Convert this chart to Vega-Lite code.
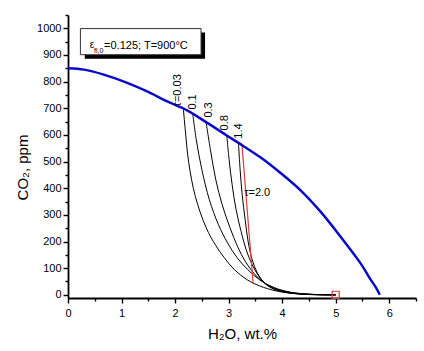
{
  "$schema": "https://vega.github.io/schema/vega-lite/v6.json",
  "width": 348,
  "height": 283,
  "autosize": {"type": "none"},
  "padding": {"left": 68, "top": 15, "right": 8, "bottom": 53},
  "background": "white",
  "config": {
    "view": {"stroke": null},
    "axis": {
      "grid": false,
      "domainColor": "black",
      "domainWidth": 1.8,
      "tickColor": "black",
      "tickWidth": 1.4,
      "labelFont": "Liberation Sans",
      "labelFontSize": 11,
      "labelColor": "black",
      "titleFont": "Liberation Sans",
      "titleFontSize": 15,
      "titleFontWeight": "normal",
      "titleColor": "black"
    },
    "text": {"font": "Liberation Sans", "color": "black"}
  },
  "datasets": {
    "blue": [
      {"x": 0, "y": 850},
      {"x": 0.3, "y": 845},
      {"x": 0.655, "y": 827},
      {"x": 1.094, "y": 796},
      {"x": 1.468, "y": 764},
      {"x": 1.843, "y": 727},
      {"x": 2.217, "y": 693},
      {"x": 2.579, "y": 648},
      {"x": 2.966, "y": 598},
      {"x": 3.184, "y": 570},
      {"x": 3.6, "y": 515},
      {"x": 3.964, "y": 458},
      {"x": 4.339, "y": 393},
      {"x": 4.713, "y": 313},
      {"x": 5.088, "y": 219},
      {"x": 5.462, "y": 119},
      {"x": 5.65, "y": 58},
      {"x": 5.75, "y": 28},
      {"x": 5.824, "y": 0}
    ],
    "curves": [
      {"tau": "0.03", "x": 2.154, "y": 699},
      {"tau": "0.03", "x": 2.19, "y": 620},
      {"tau": "0.03", "x": 2.255, "y": 496},
      {"tau": "0.03", "x": 2.38, "y": 368},
      {"tau": "0.03", "x": 2.58, "y": 252},
      {"tau": "0.03", "x": 2.76, "y": 185},
      {"tau": "0.03", "x": 2.92, "y": 139},
      {"tau": "0.03", "x": 3.11, "y": 94},
      {"tau": "0.03", "x": 3.35, "y": 56},
      {"tau": "0.03", "x": 3.65, "y": 28},
      {"tau": "0.03", "x": 3.98, "y": 11},
      {"tau": "0.03", "x": 4.35, "y": 2.6},
      {"tau": "0.03", "x": 4.713, "y": 0},
      {"tau": "0.03", "x": 5.0, "y": 0},
      {"tau": "0.1", "x": 2.33, "y": 680},
      {"tau": "0.1", "x": 2.395, "y": 583},
      {"tau": "0.1", "x": 2.5, "y": 470},
      {"tau": "0.1", "x": 2.64, "y": 357},
      {"tau": "0.1", "x": 2.81, "y": 263},
      {"tau": "0.1", "x": 2.98, "y": 195},
      {"tau": "0.1", "x": 3.16, "y": 139},
      {"tau": "0.1", "x": 3.36, "y": 94},
      {"tau": "0.1", "x": 3.58, "y": 56},
      {"tau": "0.1", "x": 3.84, "y": 28},
      {"tau": "0.1", "x": 4.16, "y": 9.4},
      {"tau": "0.1", "x": 4.526, "y": 1.9},
      {"tau": "0.1", "x": 5.0, "y": 0},
      {"tau": "0.3", "x": 2.579, "y": 648},
      {"tau": "0.3", "x": 2.66, "y": 545},
      {"tau": "0.3", "x": 2.76, "y": 432},
      {"tau": "0.3", "x": 2.88, "y": 338},
      {"tau": "0.3", "x": 3.025, "y": 252},
      {"tau": "0.3", "x": 3.17, "y": 180},
      {"tau": "0.3", "x": 3.315, "y": 124},
      {"tau": "0.3", "x": 3.48, "y": 79},
      {"tau": "0.3", "x": 3.665, "y": 45},
      {"tau": "0.3", "x": 3.908, "y": 20.7},
      {"tau": "0.3", "x": 4.208, "y": 7.5},
      {"tau": "0.3", "x": 4.564, "y": 1.5},
      {"tau": "0.3", "x": 5.0, "y": 0},
      {"tau": "0.8", "x": 2.966, "y": 598},
      {"tau": "0.8", "x": 3.009, "y": 507},
      {"tau": "0.8", "x": 3.066, "y": 413},
      {"tau": "0.8", "x": 3.14, "y": 319},
      {"tau": "0.8", "x": 3.234, "y": 237},
      {"tau": "0.8", "x": 3.328, "y": 169},
      {"tau": "0.8", "x": 3.44, "y": 113},
      {"tau": "0.8", "x": 3.571, "y": 68},
      {"tau": "0.8", "x": 3.74, "y": 34},
      {"tau": "0.8", "x": 3.983, "y": 13.2},
      {"tau": "0.8", "x": 4.301, "y": 3.8},
      {"tau": "0.8", "x": 4.676, "y": 0.8},
      {"tau": "0.8", "x": 5.0, "y": 0},
      {"tau": "1.4", "x": 3.184, "y": 570},
      {"tau": "1.4", "x": 3.215, "y": 470},
      {"tau": "1.4", "x": 3.253, "y": 376},
      {"tau": "1.4", "x": 3.309, "y": 282},
      {"tau": "1.4", "x": 3.365, "y": 199},
      {"tau": "1.4", "x": 3.44, "y": 132},
      {"tau": "1.4", "x": 3.534, "y": 83},
      {"tau": "1.4", "x": 3.665, "y": 45},
      {"tau": "1.4", "x": 3.852, "y": 20.7},
      {"tau": "1.4", "x": 4.114, "y": 7.5},
      {"tau": "1.4", "x": 4.433, "y": 1.9},
      {"tau": "1.4", "x": 4.751, "y": 0},
      {"tau": "1.4", "x": 5.0, "y": 0}
    ],
    "red": [
      {"x": 3.25, "y": 562},
      {"x": 3.458, "y": 41}
    ],
    "start": [
      {"x": 5.0, "y": 0}
    ],
    "labels": [
      {"label": "τ=0.03", "x": 2.056, "y": 707},
      {"label": "0.1", "x": 2.335, "y": 695},
      {"label": "0.3", "x": 2.625, "y": 665},
      {"label": "0.8", "x": 2.934, "y": 617},
      {"label": "1.4", "x": 3.187, "y": 586}
    ],
    "tau2": [
      {"label": "τ=2.0", "x": 3.29, "y": 383}
    ],
    "frame": [
      {"part": "shadow", "x": 0.313, "x2": 2.56, "y": 886, "y2": 984},
      {"part": "box", "x": 0.232, "x2": 2.485, "y": 901, "y2": 999}
    ],
    "eps": [{"label": "ε", "x": 0.406, "y": 927}],
    "sub": [{"label": "fl,0", "x": 0.487, "y": 908}],
    "main": [{"label": "=0.125; T=900°C", "x": 0.674, "y": 923.7}]
  },
  "encoding": {
    "x": {
      "field": "x",
      "type": "quantitative",
      "scale": {"domain": [0, 6.5], "nice": false, "zero": false},
      "axis": {
        "title": "H₂O, wt.%",
        "values": [0, 0.5, 1, 1.5, 2, 2.5, 3, 3.5, 4, 4.5, 5, 5.5, 6, 6.5],
        "labelExpr": "datum.value % 1 === 0 ? format(datum.value, 'd') : ''",
        "tickSize": {"condition": {"test": "datum.value % 1 !== 0", "value": 3}, "value": 5},
        "labelPadding": 4,
        "labelFlush": false,
        "labelOverlap": false,
        "titleY": 40,
        "titleBaseline": "alphabetic"
      }
    },
    "y": {
      "field": "y",
      "type": "quantitative",
      "scale": {"domain": [-12, 1050], "nice": false, "zero": false},
      "axis": {
        "title": "CO₂, ppm",
        "values": [0, 50, 100, 150, 200, 250, 300, 350, 400, 450, 500, 550, 600, 650, 700, 750, 800, 850, 900, 950, 1000, 1050],
        "labelExpr": "datum.value % 100 === 0 ? format(datum.value, 'd') : ''",
        "tickSize": {"condition": {"test": "datum.value % 100 !== 0", "value": 3}, "value": 5},
        "labelPadding": 2,
        "labelOverlap": false,
        "labelFlush": false,
        "titleX": -46,
        "titleY": 152,
        "titleAngle": 270,
        "titleAlign": "center",
        "titleBaseline": "middle"
      }
    }
  },
  "layer": [
    {
      "data": {"name": "frame"},
      "transform": [{"filter": "datum.part === 'shadow'"}],
      "mark": {"type": "rect", "fill": "black"},
      "encoding": {"x2": {"field": "x2"}, "y2": {"field": "y2"}}
    },
    {
      "data": {"name": "frame"},
      "transform": [{"filter": "datum.part === 'box'"}],
      "mark": {"type": "rect", "fill": "white", "stroke": "#333333", "strokeWidth": 1},
      "encoding": {"x2": {"field": "x2"}, "y2": {"field": "y2"}}
    },
    {
      "data": {"name": "eps"},
      "mark": {"type": "text", "fontSize": 10, "align": "left", "baseline": "alphabetic"},
      "encoding": {"text": {"field": "label"}}
    },
    {
      "data": {"name": "sub"},
      "mark": {"type": "text", "fontSize": 7, "align": "left", "baseline": "alphabetic"},
      "encoding": {"text": {"field": "label"}}
    },
    {
      "data": {"name": "main"},
      "mark": {"type": "text", "fontSize": 11, "align": "left", "baseline": "alphabetic"},
      "encoding": {"text": {"field": "label"}}
    },
    {
      "data": {"name": "curves"},
      "mark": {"type": "line", "color": "black", "strokeWidth": 1, "interpolate": "catmull-rom"},
      "encoding": {"detail": {"field": "tau"}}
    },
    {
      "data": {"name": "red"},
      "mark": {"type": "line", "color": "#e03a3a", "strokeWidth": 1.2},
      "encoding": {}
    },
    {
      "data": {"name": "blue"},
      "mark": {"type": "line", "color": "#0a0ac8", "strokeWidth": 2.5, "interpolate": "catmull-rom"},
      "encoding": {}
    },
    {
      "data": {"name": "start"},
      "mark": {"type": "point", "shape": "square", "size": 50, "filled": false, "stroke": "#e03a3a", "strokeWidth": 1.2, "opacity": 1},
      "encoding": {}
    },
    {
      "data": {"name": "labels"},
      "mark": {"type": "text", "fontSize": 11, "angle": 270, "align": "left", "baseline": "middle"},
      "encoding": {"text": {"field": "label"}}
    },
    {
      "data": {"name": "tau2"},
      "mark": {"type": "text", "fontSize": 11, "align": "left", "baseline": "middle"},
      "encoding": {"text": {"field": "label"}}
    }
  ]
}
